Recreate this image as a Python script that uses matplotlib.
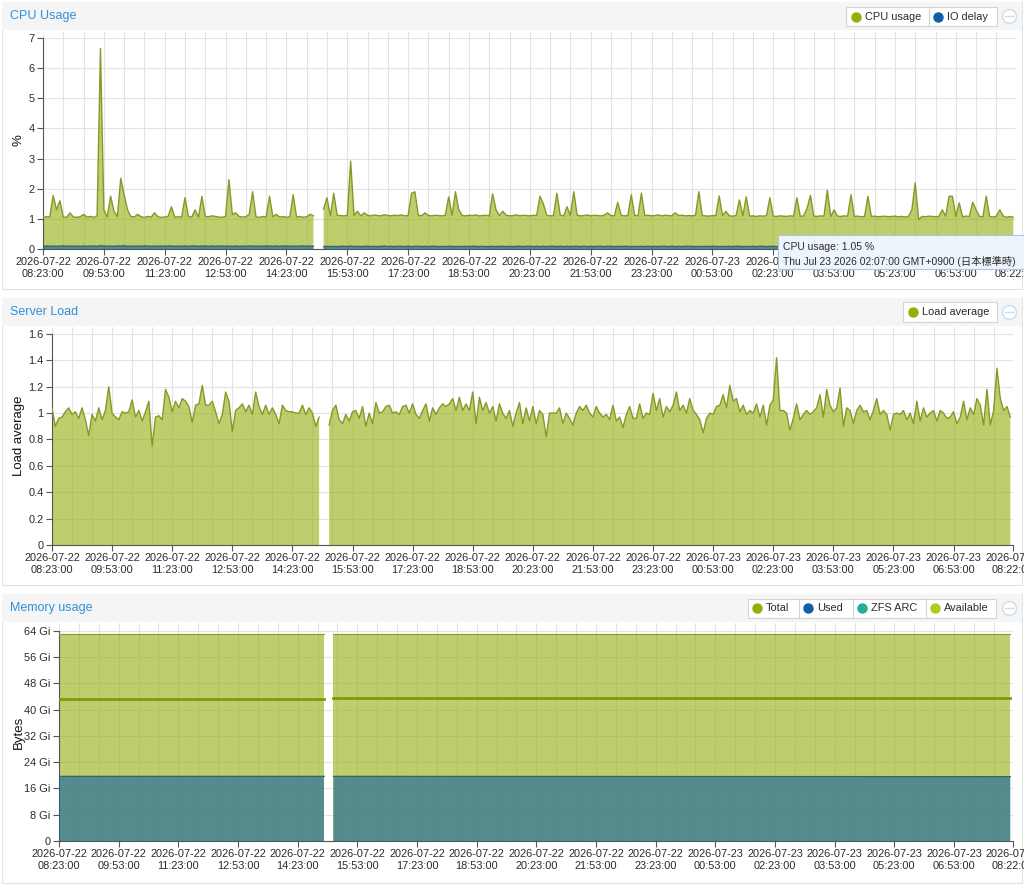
import numpy as np
import matplotlib
matplotlib.use('Agg')
import matplotlib.pyplot as plt
import matplotlib.dates as mdates
from matplotlib.patches import Rectangle
from matplotlib.lines import Line2D
from datetime import datetime, timedelta

plt.rcParams['font.family'] = ['Liberation Sans', 'Noto Sans CJK JP', 'DejaVu Sans']

nan = np.nan

# --- data -------------------------------------------------------------
start = datetime(2026, 7, 22, 8, 23)
step_min = 5          # one sample every 5 minutes
end = datetime(2026, 7, 23, 8, 22)

tick_labels = ['2026-07-22 08:23:00', '2026-07-22 09:53:00', '2026-07-22 11:23:00',
               '2026-07-22 12:53:00', '2026-07-22 14:23:00', '2026-07-22 15:53:00',
               '2026-07-22 17:23:00', '2026-07-22 18:53:00', '2026-07-22 20:23:00',
               '2026-07-22 21:53:00', '2026-07-22 23:23:00', '2026-07-23 00:53:00',
               '2026-07-23 02:23:00', '2026-07-23 03:53:00', '2026-07-23 05:23:00',
               '2026-07-23 06:53:00', '2026-07-23 08:22:00']

cpu_usage = [
    1.05, 1.07, 1.06, 1.78, 1.30, 1.60, 1.06, 1.05, 1.20, 1.06, 1.05, 1.07,
    1.15, 1.06, 1.08, 1.05, 1.10, 6.65, 1.30, 1.06, 1.75, 1.25, 1.08, 2.35,
    1.80, 1.30, 1.08, 1.06, 1.15, 1.07, 1.05, 1.08, 1.06, 1.20, 1.07, 1.05,
    1.06, 1.08, 1.40, 1.05, 1.07, 1.06, 1.70, 1.08, 1.06, 1.30, 1.05, 1.75,
    1.08, 1.07, 1.10, 1.08, 1.06, 1.05, 1.08, 2.30, 1.15, 1.20, 1.08, 1.06,
    1.07, 1.15, 1.90, 1.07, 1.05, 1.08, 1.06, 1.75, 1.07, 1.15, 1.06, 1.08,
    1.05, 1.07, 1.80, 1.06, 1.08, 1.05, 1.07, 1.15, 1.10, nan, nan, 1.33,
    1.70, 1.10, 1.85, 1.12, 1.11, 1.10, 1.12, 2.92, 1.11, 1.25, 1.10, 1.20,
    1.12, 1.10, 1.13, 1.11, 1.10, 1.14, 1.11, 1.10, 1.12, 1.11, 1.13, 1.10,
    1.11, 1.85, 1.90, 1.12, 1.10, 1.20, 1.11, 1.10, 1.12, 1.11, 1.10, 1.12,
    1.73, 1.12, 1.90, 1.30, 1.11, 1.10, 1.12, 1.11, 1.13, 1.10, 1.11, 1.12,
    1.10, 1.83, 1.30, 1.11, 1.25, 1.12, 1.10, 1.11, 1.13, 1.10, 1.12, 1.11,
    1.10, 1.12, 1.11, 1.75, 1.50, 1.12, 1.10, 1.11, 1.85, 1.12, 1.10, 1.40,
    1.11, 1.90, 1.12, 1.10, 1.11, 1.13, 1.10, 1.12, 1.11, 1.10, 1.12, 1.20,
    1.11, 1.10, 1.55, 1.12, 1.10, 1.11, 1.80, 1.12, 1.10, 1.85, 1.11, 1.12,
    1.10, 1.11, 1.13, 1.10, 1.12, 1.11, 1.10, 1.20, 1.11, 1.12, 1.10, 1.11,
    1.10, 1.12, 1.90, 1.11, 1.10, 1.09, 1.11, 1.10, 1.76, 1.11, 1.25, 1.10,
    1.09, 1.11, 1.63, 1.10, 1.73, 1.09, 1.10, 1.08, 1.10, 1.09, 1.11, 1.70,
    1.09, 1.08, 1.10, 1.09, 1.08, 1.10, 1.09, 1.70, 1.08, 1.10, 1.35, 1.78,
    1.09, 1.08, 1.10, 1.09, 1.95, 1.08, 1.30, 1.09, 1.08, 1.10, 1.09, 1.80,
    1.08, 1.09, 1.07, 1.08, 1.75, 1.08, 1.09, 1.07, 1.08, 1.09, 1.07, 1.08,
    1.09, 1.07, 1.08, 1.06, 1.08, 1.30, 2.20, 0.98, 1.08, 1.07, 1.09, 1.08,
    1.07, 1.08, 1.30, 1.09, 1.75, 1.75, 1.08, 1.53, 1.07, 1.09, 1.08, 1.55,
    1.30, 1.08, 1.07, 1.75, 1.08, 1.06, 1.09, 1.30, 1.10, 1.05, 1.08, 1.05,
]

io_delay = [
    0.09, 0.10, 0.09, 0.10, 0.09, 0.10, 0.10, 0.09, 0.10, 0.09, 0.10, 0.09,
    0.10, 0.09, 0.10, 0.10, 0.09, 0.11, 0.10, 0.09, 0.10, 0.09, 0.10, 0.10,
    0.11, 0.09, 0.10, 0.09, 0.10, 0.09, 0.10, 0.10, 0.09, 0.10, 0.09, 0.10,
    0.09, 0.10, 0.10, 0.09, 0.10, 0.09, 0.10, 0.09, 0.10, 0.10, 0.09, 0.10,
    0.10, 0.09, 0.10, 0.09, 0.10, 0.10, 0.09, 0.10, 0.09, 0.10, 0.09, 0.10,
    0.09, 0.10, 0.10, 0.09, 0.10, 0.09, 0.10, 0.10, 0.09, 0.10, 0.09, 0.10,
    0.10, 0.09, 0.10, 0.09, 0.10, 0.10, 0.09, 0.10, 0.09, nan, nan, 0.08,
    0.09, 0.08, 0.09, 0.08, 0.09, 0.09, 0.08, 0.10, 0.08, 0.09, 0.08, 0.09,
    0.09, 0.08, 0.09, 0.08, 0.09, 0.10, 0.08, 0.09, 0.08, 0.09, 0.09, 0.08,
    0.09, 0.08, 0.09, 0.09, 0.08, 0.09, 0.08, 0.09, 0.09, 0.08, 0.09, 0.08,
    0.09, 0.09, 0.08, 0.09, 0.08, 0.09, 0.08, 0.09, 0.09, 0.08, 0.09, 0.08,
    0.08, 0.09, 0.08, 0.09, 0.09, 0.08, 0.09, 0.08, 0.09, 0.09, 0.08, 0.09,
    0.09, 0.08, 0.09, 0.08, 0.09, 0.08, 0.09, 0.09, 0.08, 0.09, 0.08, 0.09,
    0.08, 0.09, 0.09, 0.08, 0.09, 0.08, 0.09, 0.08, 0.09, 0.09, 0.08, 0.09,
    0.09, 0.08, 0.09, 0.08, 0.09, 0.09, 0.08, 0.09, 0.08, 0.09, 0.08, 0.09,
    0.08, 0.09, 0.08, 0.09, 0.09, 0.08, 0.09, 0.08, 0.09, 0.08, 0.09, 0.09,
    0.09, 0.08, 0.09, 0.08, 0.09, 0.08, 0.09, 0.09, 0.08, 0.09, 0.08, 0.09,
    0.08, 0.09, 0.09, 0.08, 0.09, 0.08, 0.09, 0.08, 0.09, 0.09, 0.08, 0.09,
    0.09, 0.08, 0.09, 0.08, 0.09, 0.09, 0.08, 0.09, 0.08, 0.09, 0.08, 0.09,
    0.08, 0.09, 0.08, 0.09, 0.09, 0.08, 0.09, 0.08, 0.09, 0.08, 0.09, 0.09,
    0.09, 0.08, 0.09, 0.08, 0.09, 0.08, 0.09, 0.09, 0.08, 0.09, 0.08, 0.09,
    0.08, 0.09, 0.09, 0.08, 0.09, 0.08, 0.09, 0.08, 0.09, 0.09, 0.08, 0.09,
    0.09, 0.08, 0.09, 0.08, 0.09, 0.09, 0.08, 0.09, 0.08, 0.09, 0.08, 0.09,
    0.08, 0.09, 0.08, 0.09, 0.09, 0.08, 0.09, 0.08, 0.09, 0.08, 0.09, 0.09,
]

load_avg = [
    1.04, 0.90, 0.96, 0.97, 1.01, 1.04, 0.99, 1.01, 0.96, 1.04, 0.95, 0.83,
    0.99, 0.94, 1.04, 0.95, 1.02, 1.20, 1.00, 0.97, 0.95, 1.01, 1.00, 1.01,
    1.10, 0.97, 1.02, 0.94, 1.01, 1.09, 0.75, 0.97, 0.98, 0.95, 1.18, 1.12,
    1.01, 1.09, 1.04, 1.11, 1.09, 1.05, 0.93, 1.06, 1.07, 1.21, 1.06, 1.06,
    1.09, 1.01, 0.92, 0.99, 1.16, 1.09, 0.86, 1.02, 1.04, 1.07, 1.01, 1.06,
    0.99, 1.16, 1.05, 0.99, 1.06, 0.99, 1.04, 0.99, 0.92, 1.06, 1.02, 1.01,
    1.01, 1.00, 1.00, 1.06, 0.99, 1.04, 1.00, 0.90, 0.97, nan, nan, 0.91,
    1.02, 1.06, 0.95, 0.92, 0.99, 0.94, 1.01, 1.02, 0.96, 1.05, 0.90, 1.00,
    0.92, 1.08, 1.00, 1.01, 1.05, 1.06, 1.00, 1.01, 0.99, 1.05, 1.06, 1.00,
    1.07, 0.99, 0.96, 1.02, 1.07, 0.94, 1.04, 0.99, 1.04, 1.07, 1.05, 1.07,
    1.11, 1.02, 1.12, 1.02, 1.07, 1.02, 1.16, 0.92, 1.12, 1.02, 1.08, 1.00,
    1.05, 0.94, 1.07, 1.00, 0.96, 1.02, 0.90, 1.00, 1.08, 0.92, 1.04, 0.94,
    1.05, 0.92, 1.02, 0.99, 0.82, 1.00, 1.00, 1.00, 1.04, 0.92, 1.00, 0.96,
    0.91, 1.00, 1.05, 1.02, 1.06, 1.00, 0.97, 1.05, 1.00, 0.97, 0.99, 0.95,
    1.06, 0.94, 0.97, 0.89, 0.99, 1.05, 0.96, 0.96, 1.07, 0.96, 1.00, 0.99,
    1.15, 1.02, 1.11, 0.97, 1.05, 1.01, 1.06, 1.16, 1.02, 1.06, 1.00, 1.11,
    1.02, 0.99, 0.95, 0.85, 0.96, 1.00, 0.99, 1.05, 1.06, 1.14, 1.04, 1.21,
    1.09, 1.11, 1.01, 1.06, 0.99, 1.02, 1.00, 1.07, 0.97, 1.06, 0.91, 1.06,
    1.10, 1.42, 1.02, 1.02, 1.00, 0.87, 0.96, 1.07, 0.95, 0.99, 1.02, 0.99,
    1.01, 1.04, 1.14, 0.97, 1.18, 1.06, 1.01, 1.04, 1.19, 0.90, 1.04, 1.02,
    0.92, 1.02, 1.06, 1.01, 1.02, 0.95, 1.02, 1.11, 0.99, 1.02, 0.99, 0.87,
    0.99, 1.00, 0.99, 1.02, 0.95, 1.00, 0.92, 1.09, 0.94, 1.04, 0.97, 1.00,
    1.02, 0.94, 1.02, 1.00, 0.96, 0.97, 1.01, 0.92, 0.97, 1.09, 0.95, 1.04,
    0.99, 1.11, 1.06, 0.91, 1.18, 0.91, 1.02, 1.34, 1.11, 1.02, 1.05, 0.97,
]

# memory (GiB), flat apart from the outage
mem_minutes = [0, 400, 407, 414, 1435]
mem_total = [63.2, 63.2, nan, 63.2, 63.2]
mem_available = [43.4, 43.4, nan, 43.5, 43.5]
mem_used = [19.7, 19.7, nan, 19.7, 19.6]

# --- helpers ----------------------------------------------------------
W, H = 1024, 886
fig = plt.figure(figsize=(W / 100, H / 100), dpi=100)
fig.patch.set_facecolor('white')

def fx(x):
    return x / W

def fy(y):
    return 1 - y / H

GREEN = '#94ae0a'
BLUE = '#115fa6'
TEAL = '#24ad9a'
LIME = '#a8cf1d'
TITLE = '#3190d8'
GRID = '#e3e3e3'
AXIS = '#555555'
TXT = '#2b2b2b'
FS = 7.9

x_cpu = mdates.date2num([start + timedelta(minutes=step_min * i) for i in range(len(cpu_usage))])
x_load = mdates.date2num([start + timedelta(minutes=step_min * i) for i in range(len(load_avg))])
x_mem = mdates.date2num([start + timedelta(minutes=m) for m in mem_minutes])

tick_dt = [datetime.strptime(s, '%Y-%m-%d %H:%M:%S') for s in tick_labels]
tick_pos = mdates.date2num(tick_dt)
tick_txt = [s.replace(' ', '\n') for s in tick_labels]
minor_pos = mdates.date2num([start + timedelta(minutes=30 * k) for k in range(48)])
xmin, xmax = mdates.date2num(start), mdates.date2num(end)


def panel(top, head_bottom, bottom, title):
    fig.add_artist(Rectangle((fx(2), fy(bottom)), fx(1020), fy(top) - fy(bottom),
                             transform=fig.transFigure, fc='white', ec='#e2e2e2', lw=0.8, zorder=-2))
    fig.add_artist(Rectangle((fx(2), fy(head_bottom)), fx(1020), fy(top) - fy(head_bottom),
                             transform=fig.transFigure, fc='#f5f5f5', ec='none', zorder=-1))
    fig.text(fx(10), fy((top + head_bottom) / 2), title, color=TITLE, fontsize=9,
             va='center', ha='left')
    # collapse icon
    ymid = (top + head_bottom) / 2
    fig.add_artist(Line2D([fx(1009)], [fy(ymid)], marker='o', ms=10, mfc='white',
                          mec='#c9ddf0', mew=1, transform=fig.transFigure, zorder=3))
    fig.add_artist(Line2D([fx(1005), fx(1013)], [fy(ymid), fy(ymid)], color='#c9ddf0',
                          lw=1, transform=fig.transFigure, zorder=4))


def legend(box, ymid, items):
    x0, x1, y0, y1 = box
    fig.add_artist(Rectangle((fx(x0), fy(y1)), fx(x1 - x0), fy(y0) - fy(y1),
                             transform=fig.transFigure, fc='white', ec='#d4d4d4', lw=0.8, zorder=3))
    for i, (label, color, dot_x) in enumerate(items):
        fig.add_artist(Line2D([fx(dot_x)], [fy(ymid)], marker='o', ms=6.5, mfc=color,
                              mec=color, transform=fig.transFigure, zorder=4))
        fig.text(fx(dot_x + 9), fy(ymid), label, fontsize=FS, color=TXT,
                 va='center', ha='left', zorder=4)
        if i > 0:
            dx = dot_x - 9
            fig.add_artist(Line2D([fx(dx), fx(dx)], [fy(y0), fy(y1)], color='#d4d4d4',
                                  lw=0.8, transform=fig.transFigure, zorder=4))


def setup(ax, ymax, ytop, yticks, ylabels, ylabel, left, width):
    ax.set_facecolor('none')
    ax.set_xlim(xmin, xmax)
    ax.set_ylim(0, ymax)
    ax.set_xticks(tick_pos)
    ax.set_xticklabels(tick_txt)
    ax.set_xticks(minor_pos, minor=True)
    ax.set_yticks(yticks)
    ax.set_yticklabels(ylabels)
    ax.grid(True, which='both', axis='x', color=GRID, lw=0.8, zorder=0)
    ax.grid(True, which='major', axis='y', color=GRID, lw=0.8, zorder=0)
    ax.set_axisbelow(True)
    ax.tick_params(which='major', direction='out', length=4, width=0.8, color=AXIS,
                   labelsize=FS, labelcolor=TXT, pad=2)
    ax.tick_params(which='minor', length=0)
    for s in ['top', 'right']:
        ax.spines[s].set_visible(False)
    ax.spines['left'].set_color(AXIS)
    ax.spines['bottom'].set_color(AXIS)
    ax.spines['left'].set_bounds(0, ytop)
    ax.set_ylabel(ylabel, fontsize=9.5, color='#111111')
    ax.yaxis.set_label_coords((25 - left) / width, 0.5)


# --- CPU usage --------------------------------------------------------
panel(2, 30, 289, 'CPU Usage')
legend((846, 997, 7, 26), 16.5, [('CPU usage', GREEN, 856), ('IO delay', BLUE, 938)])
ax1 = fig.add_axes([fx(43), fy(249), fx(973), fy(32) - fy(249)])
ax1.fill_between(x_cpu, cpu_usage, color=GREEN, alpha=0.6, lw=0, zorder=2)
ax1.plot(x_cpu, cpu_usage, color='#849a28', lw=1.0, zorder=3)
ax1.fill_between(x_cpu, io_delay, color=BLUE, alpha=0.6, lw=0, zorder=4)
ax1.plot(x_cpu, io_delay, color='#2c5f78', lw=0.9, zorder=5)
setup(ax1, 7.2, 7, range(0, 8), [str(v) for v in range(0, 8)], '%', 43, 973)

# tooltip
fig.add_artist(Rectangle((fx(778), fy(269)), fx(260), fy(235) - fy(269),
                         transform=fig.transFigure, fc='#eef4fb', ec='#a9c6e6', lw=0.8, zorder=10))
fig.text(fx(783), fy(246.5), 'CPU usage: 1.05 %', fontsize=7.5, color=TXT,
         va='center', ha='left', zorder=11)
fig.text(fx(783), fy(261.5), 'Thu Jul 23 2026 02:07:00 GMT+0900 (日本標準時)', fontsize=7.4,
         color=TXT, va='center', ha='left', zorder=11)

# --- Server load ------------------------------------------------------
panel(298, 326, 585, 'Server Load')
legend((903, 997, 302, 322), 312.3, [('Load average', GREEN, 913)])
ax2 = fig.add_axes([fx(52), fy(545), fx(961), fy(327) - fy(545)])
ax2.fill_between(x_load, load_avg, color=GREEN, alpha=0.6, lw=0, zorder=2)
ax2.plot(x_load, load_avg, color='#849a28', lw=1.0, zorder=3)
ld_ticks = [0, 0.2, 0.4, 0.6, 0.8, 1.0, 1.2, 1.4, 1.6]
setup(ax2, 1.653, 1.6, ld_ticks, ['0', '0.2', '0.4', '0.6', '0.8', '1', '1.2', '1.4', '1.6'],
      'Load average', 52, 961)

# --- Memory usage -----------------------------------------------------
panel(594, 622, 883, 'Memory usage')
legend((748, 996, 599, 618), 608.3, [('Total', GREEN, 757), ('Used', BLUE, 808),
                                     ('ZFS ARC', TEAL, 862), ('Available', LIME, 935)])
ax3 = fig.add_axes([fx(59), fy(841), fx(954), fy(623) - fy(841)])
ax3.fill_between(x_mem, mem_total, color=GREEN, alpha=0.6, lw=0, zorder=2)
ax3.plot(x_mem, mem_total, color='#8aa030', lw=0.9, zorder=3)
ax3.fill_between(x_mem, mem_used, color=BLUE, alpha=0.6, lw=0, zorder=4)
ax3.plot(x_mem, mem_used, color='#35646c', lw=0.9, zorder=5)
ax3.plot(x_mem, mem_available, color='#7c9a08', lw=2, zorder=6)
mem_ticks = list(range(0, 65, 8))
setup(ax3, 66.4, 64, mem_ticks, ['0'] + ['%d Gi' % v for v in mem_ticks[1:]], 'Bytes', 59, 954)

fig.savefig('out.png', dpi=100)
